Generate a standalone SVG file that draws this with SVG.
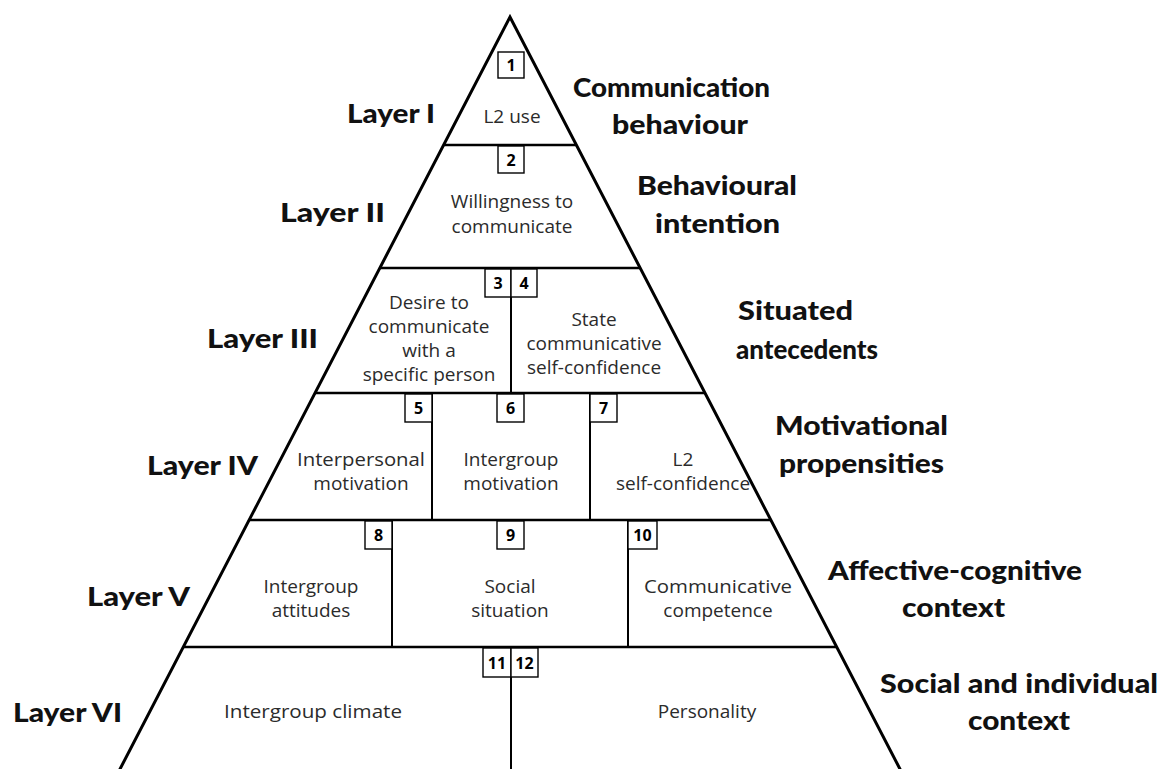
<svg xmlns="http://www.w3.org/2000/svg" width="1161" height="769" viewBox="0 0 1161 769">
<style>
.edge{fill:none;stroke:#000;stroke-width:3;stroke-linejoin:miter}
.hline{stroke:#000;stroke-width:2.6}
.vline{stroke:#000;stroke-width:2}
.nb{fill:#fff;stroke:#000;stroke-width:1.4}
.num{font-family:"Open Sans","Liberation Sans",sans-serif;font-weight:700;font-size:16px;fill:#000;text-anchor:middle}
.in{font-family:"Open Sans","Liberation Sans",sans-serif;font-size:19px;fill:#2b2b2b;text-anchor:middle}
.lay{font-family:"Lato","Liberation Sans",sans-serif;font-weight:900;font-size:27px;fill:#111}
.rl{font-family:"Lato","Liberation Sans",sans-serif;font-weight:900;font-size:27px;fill:#111}
</style>
<rect width="1161" height="769" fill="#fff"/>
<g id="connectors">
<polyline class="edge" points="119,771 510,17 901,771"/>
<line class="hline" x1="443.6" y1="145" x2="576.4" y2="145"/>
<line class="hline" x1="379.8" y1="268" x2="640.2" y2="268"/>
<line class="hline" x1="315" y1="393" x2="705" y2="393"/>
<line class="hline" x1="249.1" y1="520" x2="770.9" y2="520"/>
<line class="hline" x1="183.3" y1="647" x2="836.7" y2="647"/>
<line class="vline" x1="511" y1="268" x2="511" y2="393"/>
<line class="vline" x1="432" y1="393" x2="432" y2="520"/>
<line class="vline" x1="590" y1="393" x2="590" y2="520"/>
<line class="vline" x1="392" y1="520" x2="392" y2="647"/>
<line class="vline" x1="628" y1="520" x2="628" y2="647"/>
<line class="vline" x1="511" y1="647" x2="511" y2="769"/>
</g>
<g id="node1">
<rect class="nb" x="498" y="52" width="26" height="26"/>
<text class="num" x="511" y="71">1</text>
<text class="in" x="512" y="123">L2 use</text>
</g>
<g id="node2">
<rect class="nb" x="498" y="146" width="26" height="27"/>
<text class="num" x="511" y="166">2</text>
<text class="in" x="512" y="208">Willingness to</text>
<text class="in" x="512" y="233">communicate</text>
</g>
<g id="node3">
<rect class="nb" x="485" y="269" width="26" height="28"/>
<text class="num" x="498" y="289">3</text>
<text class="in" x="429" y="309">Desire to</text>
<text class="in" x="429" y="333">communicate</text>
<text class="in" x="429" y="357">with a</text>
<text class="in" x="429" y="381">specific person</text>
</g>
<g id="node4">
<rect class="nb" x="511" y="269" width="26" height="28"/>
<text class="num" x="524" y="289">4</text>
<text class="in" x="594" y="326">State</text>
<text class="in" x="594" y="350">communicative</text>
<text class="in" x="594" y="374">self-confidence</text>
</g>
<g id="node5">
<rect class="nb" x="405" y="394" width="27" height="28"/>
<text class="num" x="418.5" y="414">5</text>
<text class="in" x="361" y="466" textLength="128" lengthAdjust="spacingAndGlyphs">Interpersonal</text>
<text class="in" x="361" y="490">motivation</text>
</g>
<g id="node6">
<rect class="nb" x="497" y="394" width="27" height="28"/>
<text class="num" x="510.5" y="414">6</text>
<text class="in" x="511" y="466">Intergroup</text>
<text class="in" x="511" y="490">motivation</text>
</g>
<g id="node7">
<rect class="nb" x="590" y="394" width="27" height="28"/>
<text class="num" x="603.5" y="414">7</text>
<text class="in" x="683" y="466">L2</text>
<text class="in" x="683" y="490">self-confidence</text>
</g>
<g id="node8">
<rect class="nb" x="365" y="521" width="27" height="28"/>
<text class="num" x="378.5" y="541">8</text>
<text class="in" x="311" y="593">Intergroup</text>
<text class="in" x="311" y="617">attitudes</text>
</g>
<g id="node9">
<rect class="nb" x="497" y="521" width="27" height="28"/>
<text class="num" x="510.5" y="541">9</text>
<text class="in" x="510" y="593">Social</text>
<text class="in" x="510" y="617">situation</text>
</g>
<g id="node10">
<rect class="nb" x="628" y="521" width="29" height="28"/>
<text class="num" x="642.5" y="541">10</text>
<text class="in" x="718" y="593" textLength="148" lengthAdjust="spacingAndGlyphs">Communicative</text>
<text class="in" x="718" y="617">competence</text>
</g>
<g id="node11">
<rect class="nb" x="483" y="648" width="28" height="29"/>
<text class="num" x="497" y="669">11</text>
<text class="in" x="313" y="718" textLength="178" lengthAdjust="spacingAndGlyphs">Intergroup climate</text>
</g>
<g id="node12">
<rect class="nb" x="511" y="648" width="27" height="29"/>
<text class="num" x="524.5" y="669">12</text>
<text class="in" x="707" y="718">Personality</text>
</g>
<g id="layer-labels">
<text class="lay" x="347" y="123" textLength="88" lengthAdjust="spacingAndGlyphs">Layer I</text>
<text class="lay" x="280" y="222" textLength="105" lengthAdjust="spacingAndGlyphs">Layer II</text>
<text class="lay" x="207" y="348" textLength="111" lengthAdjust="spacingAndGlyphs">Layer III</text>
<text class="lay" x="147" y="475" textLength="111" lengthAdjust="spacingAndGlyphs">Layer IV</text>
<text class="lay" x="87" y="606" textLength="103" lengthAdjust="spacingAndGlyphs">Layer V</text>
<text class="lay" x="13" y="722" textLength="109" lengthAdjust="spacingAndGlyphs">Layer VI</text>
</g>
<g id="right-labels">
<text class="rl" x="573" y="97" textLength="197" lengthAdjust="spacingAndGlyphs">Communication</text>
<text class="rl" x="612" y="134" textLength="136" lengthAdjust="spacingAndGlyphs">behaviour</text>
<text class="rl" x="637" y="195" textLength="160" lengthAdjust="spacingAndGlyphs">Behavioural</text>
<text class="rl" x="655" y="233" textLength="125" lengthAdjust="spacingAndGlyphs">intention</text>
<text class="rl" x="738" y="320" textLength="115" lengthAdjust="spacingAndGlyphs">Situated</text>
<text class="rl" x="736" y="359" textLength="142" lengthAdjust="spacingAndGlyphs">antecedents</text>
<text class="rl" x="775" y="435" textLength="173" lengthAdjust="spacingAndGlyphs">Motivational</text>
<text class="rl" x="779" y="473" textLength="165" lengthAdjust="spacingAndGlyphs">propensities</text>
<text class="rl" x="828" y="580" textLength="254" lengthAdjust="spacingAndGlyphs">Affective-cognitive</text>
<text class="rl" x="902" y="617" textLength="103" lengthAdjust="spacingAndGlyphs">context</text>
<text class="rl" x="880" y="693" textLength="278" lengthAdjust="spacingAndGlyphs">Social and individual</text>
<text class="rl" x="968" y="730" textLength="102" lengthAdjust="spacingAndGlyphs">context</text>
</g>
</svg>
